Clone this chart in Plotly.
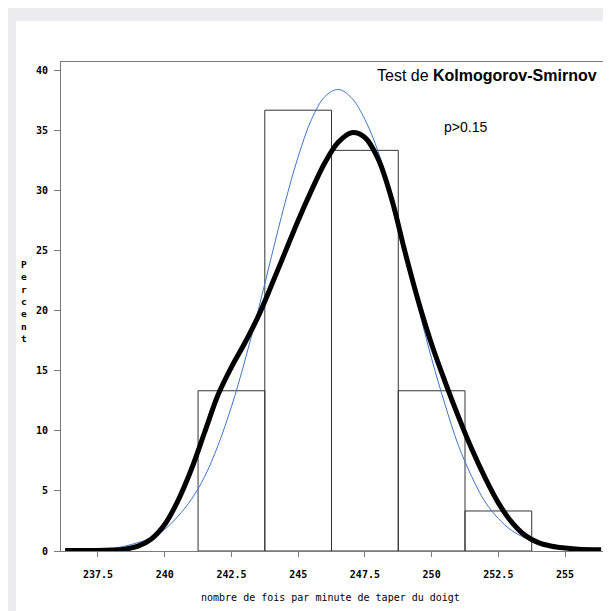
import plotly.graph_objects as go

# ---- data ----
bin_centers = [242.5, 245.0, 247.5, 250.0, 252.5]
bin_width = 2.5
bin_percent = [13.33, 36.67, 33.33, 13.33, 3.33]

# kernel density curve (thick black)
kde_x = [236.27, 237.0, 237.5, 238.0, 238.5, 239.0, 239.5, 240.0, 240.5, 241.0,
         241.5, 242.0, 242.5, 243.0, 243.5, 244.0, 244.5, 245.0, 245.5, 246.0,
         246.5, 247.0, 247.5, 248.0, 248.5, 249.0, 249.5, 250.0, 250.5, 251.0,
         251.5, 252.0, 252.5, 253.0, 253.5, 254.0, 254.5, 255.0, 255.5, 256.35]
kde_y = [0.05, 0.05, 0.05, 0.08, 0.15, 0.4, 1.0, 2.2, 4.2, 6.8,
         9.9, 13.0, 15.3, 17.3, 19.5, 22.1, 24.8, 27.5, 30.0, 32.3,
         34.0, 34.8, 34.4, 32.6, 29.3, 24.9, 20.8, 17.2, 14.1, 11.2,
         8.5, 6.1, 4.0, 2.4, 1.3, 0.7, 0.4, 0.25, 0.15, 0.1]

# fitted normal curve (thin blue)
norm_x = kde_x
norm_y = [0.02, 0.05, 0.1, 0.2, 0.4, 0.7, 1.1, 1.8, 2.9, 4.3,
          6.2, 8.8, 12.0, 15.8, 20.0, 24.5, 28.9, 32.8, 35.9, 37.8,
          38.4, 37.7, 35.9, 33.2, 29.4, 25.0, 20.3, 16.0, 12.2, 8.8,
          6.2, 4.1, 2.7, 1.7, 1.1, 0.7, 0.4, 0.2, 0.1, 0.04]

x_ticks = [237.5, 240, 242.5, 245, 247.5, 250, 252.5, 255]
x_tick_labels = ["237.5", "240", "242.5", "245", "247.5", "250", "252.5", "255"]
y_ticks = [0, 5, 10, 15, 20, 25, 30, 35, 40]

x_title = "nombre de fois par minute de taper du doigt"
y_title = "Percent"
test_label = "Test de <b>Kolmogorov-Smirnov</b>"
p_label = "p>0.15"

# ---- figure (page body has an 8px margin, so the figure is 603x603) ----
OFF = 8
W, H = 611 - OFF, 611 - OFF
PL, PR, PT, PB = 61, 603, 62, 551          # plot area in page pixels
L, T = PL - OFF, PT - OFF
R, B = W - (PR - OFF), H - (PB - OFF)
pw, ph = PR - PL, PB - PT

def px_x(p):
    return (p - PL) / pw

def px_y(q):
    return (PB - q) / ph

mono = "DejaVu Sans Mono"
sans = "Liberation Sans, Arial"

fig = go.Figure()
fig.add_trace(go.Bar(
    x=bin_centers, y=bin_percent, width=bin_width,
    marker=dict(color="rgba(0,0,0,0)", line=dict(color="#333333", width=1)),
    showlegend=False, hoverinfo="skip"))
fig.add_trace(go.Scatter(
    x=norm_x, y=norm_y, mode="lines",
    line=dict(color="#3F74C8", width=1, shape="spline", smoothing=1),
    showlegend=False))
fig.add_trace(go.Scatter(
    x=kde_x, y=kde_y, mode="lines",
    line=dict(color="black", width=5, shape="spline", smoothing=1),
    showlegend=False))

axis_common = dict(showline=True, linecolor="#7a7a7a", linewidth=1, mirror=True,
                   ticks="outside", tickcolor="#7a7a7a", showgrid=False, zeroline=False,
                   tickfont=dict(family=mono, size=10, color="black", weight="bold"))

fig.update_xaxes(range=[236.115, 256.42], tickvals=x_ticks, ticktext=x_tick_labels,
                 ticklen=5, ticklabelstandoff=9, **axis_common)
fig.update_yaxes(range=[0, 40.68], tickvals=y_ticks, ticklen=6,
                 ticklabelstandoff=4, **axis_common)

fig.update_layout(
    width=W, height=H, autosize=False,
    margin=dict(l=L, r=R, t=T, b=B, pad=0),
    paper_bgcolor="white", plot_bgcolor="rgba(0,0,0,0)",
    shapes=[
        dict(type="rect", xref="paper", yref="paper", layer="below",
             x0=px_x(8), x1=px_x(640), y0=px_y(640), y1=px_y(5),
             fillcolor="#ECECEE", line=dict(width=0)),
        dict(type="rect", xref="paper", yref="paper", layer="below",
             x0=px_x(16), x1=px_x(640), y0=px_y(640), y1=px_y(21),
             fillcolor="white", line=dict(width=0)),
    ],
    annotations=[
        dict(text=test_label, xref="paper", yref="paper", x=px_x(599), y=px_y(75),
             xanchor="right", yanchor="middle", showarrow=False,
             font=dict(family=sans, size=16, color="black")),
        dict(text=p_label, xref="paper", yref="paper", x=px_x(465), y=px_y(127),
             xanchor="center", yanchor="middle", showarrow=False,
             font=dict(family=sans, size=14, color="black")),
        dict(text=x_title, xref="paper", yref="paper", x=px_x(330), y=px_y(597),
             xanchor="center", yanchor="middle", showarrow=False,
             font=dict(family=mono, size=10, color="black")),
        dict(text="<br>".join(list(y_title)), xref="paper", yref="paper",
             x=px_x(24), y=px_y(301), xanchor="center", yanchor="middle",
             showarrow=False, align="center",
             font=dict(family=mono, size=9.5, color="black", weight="bold")),
    ],
)

fig.write_html("out.html")
